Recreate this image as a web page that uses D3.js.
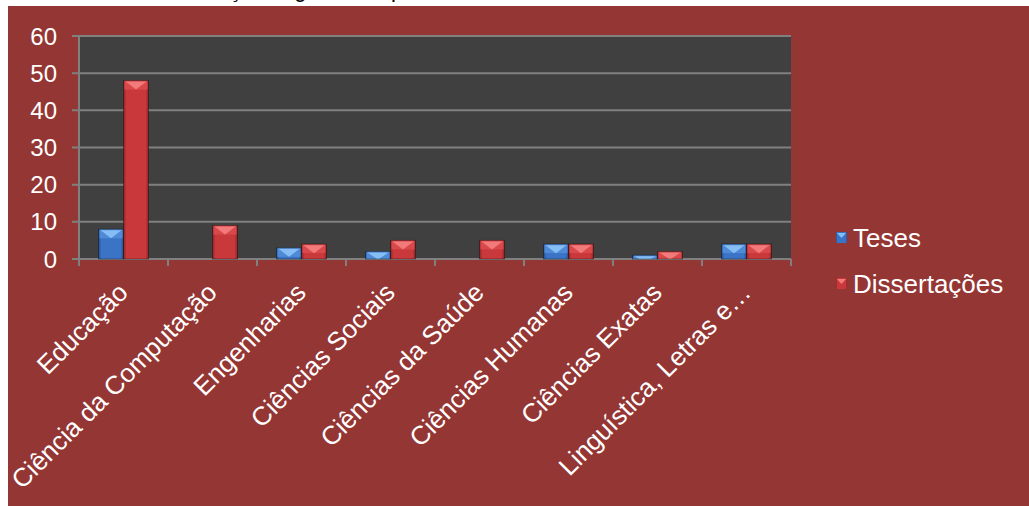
<!DOCTYPE html>
<html>
<head>
<meta charset="utf-8">
<script src="https://cdn.jsdelivr.net/npm/d3@7"></script>
<style>
  body { margin: 0; background: #fff; }
  svg { display: block; font-family: Arial, "Liberation Sans", sans-serif; }
</style>
</head>
<body>
<svg id="chart" width="1029" height="506"></svg>
<script>
// data
const categories = ['Educação', 'Ciência da Computação', 'Engenharias', 'Ciências Sociais',
  'Ciências da Saúde', 'Ciências Humanas', 'Ciências Exatas', 'Linguística, Letras e…'];
const teses = [8, 0, 3, 2, 0, 4, 1, 4];
const dissertacoes = [48, 9, 4, 5, 5, 4, 2, 4];
const seriesNames = ['Teses', 'Dissertações'];
const yTicks = [0, 10, 20, 30, 40, 50, 60];

const svg = d3.select('#chart');
const W = 1029, H = 506;

// title, mostly cut off above the chart area (only descenders show)
svg.append('text')
  .attr('x', 150).attr('y', -3)
  .attr('font-size', 22).attr('fill', '#000')
  .text('Distribuição segundo o tipo');

// red chart area (white strip at top and left)
svg.append('rect').attr('x', 8).attr('y', 6).attr('width', W - 8).attr('height', H - 6).attr('fill', '#943634');

const plot = { left: 79, right: 791, top: 36, bottom: 259 };

const x = d3.scaleBand().domain(categories).range([plot.left, plot.right]);
const xs = d3.scaleBand().domain(seriesNames).range([0, 50]);
const y = d3.scaleLinear().domain([0, 60]).range([plot.bottom, plot.top]);

// gradients
const defs = svg.append('defs');
function hGrad(id, edge, mid) {
  const g = defs.append('linearGradient').attr('id', id).attr('x1', 0).attr('x2', 1).attr('y1', 0).attr('y2', 0);
  g.append('stop').attr('offset', '0%').attr('stop-color', edge);
  g.append('stop').attr('offset', '12%').attr('stop-color', mid);
  g.append('stop').attr('offset', '88%').attr('stop-color', mid);
  g.append('stop').attr('offset', '100%').attr('stop-color', edge);
}
hGrad('gBlue', '#244f8e', '#3b74c6');
hGrad('gRed', '#8c2426', '#c9383b');

const styles = {
  Teses: { fill: 'url(#gBlue)', light: '#86bdf5', top: '#4f8ad6' },
  'Dissertações': { fill: 'url(#gRed)', light: '#f27a7a', top: '#d9494b' }
};

// plot background
svg.append('rect')
  .attr('x', plot.left).attr('y', plot.top)
  .attr('width', plot.right - plot.left).attr('height', plot.bottom - plot.top)
  .attr('fill', '#404040');

// gridlines + y labels
svg.append('g').selectAll('line').data(yTicks).join('line')
  .attr('x1', plot.left - 7).attr('x2', plot.right)
  .attr('y1', d => y(d)).attr('y2', d => y(d))
  .attr('stroke', '#808080').attr('stroke-width', 2);

svg.append('g').selectAll('text').data(yTicks).join('text')
  .attr('x', 57).attr('y', d => y(d))
  .attr('dy', '0.36em')
  .attr('text-anchor', 'end')
  .attr('font-size', 24).attr('fill', '#fff')
  .text(d => d);

// y axis line
svg.append('line')
  .attr('x1', plot.left).attr('x2', plot.left)
  .attr('y1', plot.top).attr('y2', plot.bottom + 7)
  .attr('stroke', '#808080').attr('stroke-width', 2);

// x tick marks
const xTickPos = categories.map(c => x(c) + x.bandwidth()).concat([plot.left]);
svg.append('g').selectAll('line').data(xTickPos).join('line')
  .attr('x1', d => d).attr('x2', d => d)
  .attr('y1', plot.bottom).attr('y2', plot.bottom + 7)
  .attr('stroke', '#808080').attr('stroke-width', 2);

// bars
const rows = [];
categories.forEach((c, i) => {
  rows.push({ cat: c, s: 'Teses', v: teses[i] });
  rows.push({ cat: c, s: 'Dissertações', v: dissertacoes[i] });
});
const barOffset = (x.bandwidth() - 50) / 2;

const bars = svg.append('g').selectAll('g').data(rows.filter(d => d.v > 0)).join('g');
bars.each(function (d) {
  const g = d3.select(this);
  const x0 = x(d.cat) + barOffset + xs(d.s);
  const w = xs.bandwidth();
  const y0 = y(d.v);
  const h = plot.bottom - y0;
  const bev = Math.min(9, h);
  const st = styles[d.s];
  g.append('rect').attr('x', x0).attr('y', y0).attr('width', w).attr('height', h).attr('fill', st.fill);
  g.append('rect').attr('x', x0 + 1).attr('y', y0).attr('width', w - 2).attr('height', bev).attr('fill', st.top);
  // top bevel: lighter downward wedge
  const dxw = bev * 1.3;
  g.append('polygon')
    .attr('points', [[x0 + 2, y0 + 1], [x0 + w - 2, y0 + 1],
      [Math.max(x0 + w / 2, x0 + w - 2 - dxw), y0 + bev], [Math.min(x0 + w / 2, x0 + 2 + dxw), y0 + bev]].map(p => p.join(',')).join(' '))
    .attr('fill', st.light);
  g.append('rect').attr('x', x0).attr('y', y0).attr('width', w).attr('height', h)
    .attr('fill', 'none').attr('stroke', 'rgba(0,0,0,0.35)').attr('stroke-width', 1);
});

// x labels (rotated)
svg.append('g').selectAll('text').data(categories).join('text')
  .attr('transform', c => `translate(${x(c) + x.bandwidth() / 2 + 6},${plot.bottom + 35}) rotate(-45)`)
  .attr('text-anchor', 'end')
  .attr('font-size', 26).attr('fill', '#fff')
  .text(c => c);

// legend
const legend = svg.append('g').selectAll('g').data(seriesNames).join('g')
  .attr('transform', (d, i) => `translate(836,${238 + i * 46})`);
legend.append('rect').attr('x', 0).attr('y', -6).attr('width', 11).attr('height', 11)
  .attr('fill', d => styles[d].fill);
legend.append('polygon').attr('points', '1,-5 10,-5 5.5,0').attr('fill', d => styles[d].light);
legend.append('text').attr('x', 17).attr('y', 0).attr('dy', '0.36em')
  .attr('font-size', 26).attr('fill', '#fff')
  .text(d => d);
</script>
</body>
</html>
